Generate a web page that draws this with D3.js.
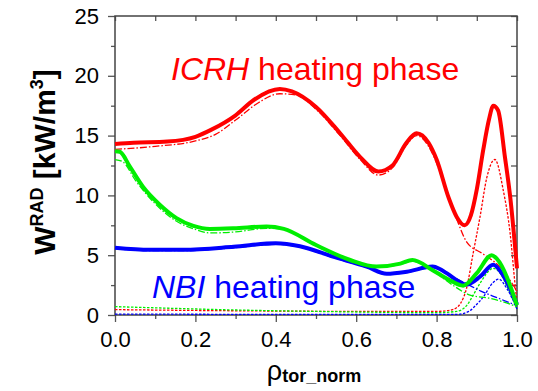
<!DOCTYPE html>
<html>
<head>
<meta charset="utf-8">
<script src="https://cdn.jsdelivr.net/npm/d3@7"></script>
<style>
  body { margin: 0; background: #fff; }
  text { font-family: "Liberation Sans", Arial, sans-serif; }
</style>
</head>
<body>
<div id="chart"></div>
<script>
// Radiated power density profiles vs normalised toroidal radius

// ICRH phase (red)
const rhoIcrhTotal = [0, 0.046, 0.13, 0.2, 0.24, 0.3, 0.346, 0.41, 0.44, 0.5, 0.56, 0.61, 0.655, 0.69, 0.725, 0.75, 0.78, 0.8, 0.83, 0.85, 0.87, 0.885, 0.9, 0.916, 0.93, 0.941, 0.953, 0.97, 0.983, 1.0];
const icrhTotal    = [14.3, 14.4, 14.5, 14.9, 15.5, 16.7, 18.0, 18.9, 18.7, 17.4, 15.2, 13.2, 12.0, 12.5, 14.4, 15.2, 14.4, 13.0, 9.8, 8.2, 7.5, 8.3, 10.5, 13.8, 16.3, 17.5, 17.1, 13.2, 9.9, 3.9];

const rhoIcrhBulk = [0, 0.1, 0.2, 0.25, 0.3, 0.35, 0.41, 0.45, 0.5, 0.56, 0.61, 0.655, 0.69, 0.725, 0.75, 0.78, 0.8, 0.83, 0.85, 0.875, 0.916, 0.958, 1.0];
const icrhBulk    = [13.85, 14.1, 14.55, 15.1, 16.3, 17.6, 18.5, 18.4, 17.2, 15.0, 13.0, 11.7, 12.3, 14.2, 15.0, 14.1, 12.7, 9.7, 8.0, 6.1, 5.1, 4.0, 2.0];

const rhoIcrhEdge = [0, 0.2, 0.4, 0.6, 0.8, 0.84, 0.86, 0.875, 0.89, 0.908, 0.925, 0.945, 0.966, 0.983, 0.995, 1.0];
const icrhEdge    = [0.45, 0.38, 0.33, 0.3, 0.3, 0.45, 1.0, 2.3, 5.0, 8.2, 11.5, 13.0, 10.4, 6.8, 2.6, 1.0];

// mixed phase (green)
const rhoMixTotal = [0, 0.012, 0.037, 0.07, 0.112, 0.153, 0.195, 0.236, 0.295, 0.377, 0.42, 0.5, 0.585, 0.65, 0.71, 0.74, 0.79, 0.833, 0.866, 0.9, 0.937, 0.95, 1.0];
const mixTotal    = [13.7, 13.65, 12.4, 10.7, 9.2, 8.1, 7.45, 7.2, 7.25, 7.4, 7.2, 5.85, 4.6, 4.05, 4.3, 4.6, 3.75, 2.9, 2.45, 3.5, 5.0, 4.7, 0.8];

const rhoMixBulk = [0, 0.02, 0.05, 0.1, 0.15, 0.2, 0.236, 0.3, 0.377, 0.42, 0.5, 0.585, 0.65, 0.71, 0.74, 0.79, 0.84, 0.883, 0.933, 1.0];
const mixBulk    = [13.0, 12.8, 11.3, 9.3, 7.9, 7.15, 6.86, 6.95, 7.25, 7.15, 5.8, 4.55, 4.0, 4.25, 4.5, 3.7, 2.5, 1.67, 1.4, 0.7];

const rhoMixEdge = [0, 0.1, 0.3, 0.5, 0.8, 0.85, 0.875, 0.89, 0.908, 0.941, 0.96, 0.975, 1.0];
const mixEdge    = [0.7, 0.6, 0.42, 0.3, 0.2, 0.3, 0.8, 1.6, 2.65, 3.9, 3.4, 2.4, 0.5];

// NBI phase (blue)
const rhoNbiTotal = [0, 0.087, 0.17, 0.295, 0.4, 0.46, 0.54, 0.626, 0.676, 0.726, 0.79, 0.808, 0.825, 0.875, 0.908, 0.941, 0.96, 1.0];
const nbiTotal    = [5.63, 5.45, 5.45, 5.7, 6.0, 5.75, 4.9, 4.05, 3.45, 3.62, 4.05, 3.85, 3.5, 2.55, 3.2, 4.2, 3.6, 0.9];

const rhoNbiBulk = [0, 0.087, 0.17, 0.295, 0.4, 0.46, 0.54, 0.626, 0.676, 0.726, 0.79, 0.808, 0.84, 0.875, 0.91, 0.95, 1.0];
const nbiBulk    = [5.55, 5.38, 5.38, 5.62, 5.92, 5.68, 4.83, 3.98, 3.4, 3.56, 3.98, 3.8, 3.2, 2.6, 2.0, 1.45, 0.8];

const rhoNbiEdge = [0, 0.5, 0.85, 0.88, 0.9, 0.916, 0.94, 0.955, 0.975, 1.0];
const nbiEdge    = [0.08, 0.05, 0.05, 0.3, 0.9, 1.5, 2.7, 3.0, 2.2, 0.5];

const xTicks = [0, 0.2, 0.4, 0.6, 0.8, 1.0];
const yTicks = [0, 5, 10, 15, 20, 25];

const series = [
  {rho: rhoIcrhEdge, w: icrhEdge, color: '#ff0000', style: 'dot'},
  {rho: rhoMixEdge,  w: mixEdge,  color: '#00ee00', style: 'dot'},
  {rho: rhoNbiEdge,  w: nbiEdge,  color: '#0000ff', style: 'dot'},
  {rho: rhoIcrhBulk, w: icrhBulk, color: '#ff0000', style: 'dashdot'},
  {rho: rhoMixBulk,  w: mixBulk,  color: '#00ee00', style: 'dashdot'},
  {rho: rhoNbiBulk,  w: nbiBulk,  color: '#0000ff', style: 'dashdot'},
  {rho: rhoNbiTotal, w: nbiTotal, color: '#0000ff', style: 'solid'},
  {rho: rhoMixTotal, w: mixTotal, color: '#00ee00', style: 'solid'},
  {rho: rhoIcrhTotal, w: icrhTotal, color: '#ff0000', style: 'solid'}
];

class ProfileChart {

  constructor(_config, _data) {
    this.config = {
      parentElement: _config.parentElement,
      containerWidth: 538,
      containerHeight: 391,
      margin: {top: 16, right: 21, bottom: 76, left: 115}
    }
    this.data = _data;
    this.initVis();
  }

  initVis() {
    let vis = this;

    vis.config.width = vis.config.containerWidth - vis.config.margin.left - vis.config.margin.right;
    vis.config.height = vis.config.containerHeight - vis.config.margin.top - vis.config.margin.bottom;

    vis.xScale = d3.scaleLinear().domain([0, 1]).range([0, vis.config.width]);
    vis.yScale = d3.scaleLinear().domain([0, 25]).range([vis.config.height, 0]);

    vis.svg = d3.select(vis.config.parentElement).append('svg')
        .attr('width', vis.config.containerWidth)
        .attr('height', vis.config.containerHeight);

    vis.chart = vis.svg.append('g')
        .attr('transform', `translate(${vis.config.margin.left},${vis.config.margin.top})`);

    vis.renderAxes();
    vis.renderVis();
  }

  renderAxes() {
    let vis = this;
    const w = vis.config.width, h = vis.config.height;
    const minorY = d3.range(0, 25.01, 2.5).filter(v => v % 5 !== 0);
    const allX = d3.range(0, 1.001, 0.1);
    const minorX = allX.filter((v, i) => i % 2 === 1);

    // left: labelled majors, short minors, all outward
    vis.chart.append('g')
        .call(d3.axisLeft(vis.yScale).tickValues(yTicks).tickSize(7).tickPadding(9).tickFormat(d3.format('d')));
    vis.chart.append('g')
        .call(d3.axisLeft(vis.yScale).tickValues(minorY).tickSize(4).tickFormat(''));

    // right and top: inward ticks, no labels
    vis.chart.append('g')
        .attr('transform', `translate(${w},0)`)
        .call(d3.axisRight(vis.yScale).tickValues(d3.range(0, 25.01, 2.5)).tickSize(-6).tickFormat(''));
    vis.chart.append('g')
        .call(d3.axisTop(vis.xScale).tickValues(allX).tickSize(-5).tickFormat(''));

    // bottom
    vis.chart.append('g')
        .attr('transform', `translate(0,${h})`)
        .call(d3.axisBottom(vis.xScale).tickValues(xTicks).tickSize(7).tickPadding(9).tickFormat(d3.format('.1f')));
    vis.chart.append('g')
        .attr('transform', `translate(0,${h})`)
        .call(d3.axisBottom(vis.xScale).tickValues(minorX).tickSize(4).tickFormat(''));

    vis.chart.selectAll('.domain').remove();
    vis.chart.selectAll('.tick line').attr('stroke', '#555').attr('stroke-width', 1.3);
    vis.chart.selectAll('.tick text')
        .attr('font-size', 22)
        .attr('fill', '#000')
        .style('font-family', '"Liberation Sans", Arial, sans-serif');

    vis.chart.append('rect')
        .attr('width', w)
        .attr('height', h)
        .attr('fill', 'none')
        .attr('stroke', '#444')
        .attr('stroke-width', 1.5);

    // y title: W^RAD [kW/m^3]
    const yTitle = vis.svg.append('text')
        .attr('transform', 'translate(55,162) rotate(-90)')
        .attr('text-anchor', 'middle')
        .attr('font-weight', 'bold')
        .attr('font-size', 30)
        .attr('fill', '#000');
    yTitle.append('tspan').text('W');
    yTitle.append('tspan').attr('font-size', 18).attr('dy', -12).text('RAD');
    yTitle.append('tspan').attr('dy', 12).text(' [kW/m');
    yTitle.append('tspan').attr('font-size', 18).attr('dy', -12).text('3');
    yTitle.append('tspan').attr('dy', 12).text(']');

    // x title: rho_tor_norm
    const xTitle = vis.svg.append('text')
        .attr('x', 314)
        .attr('y', 380)
        .attr('text-anchor', 'middle')
        .attr('fill', '#000');
    xTitle.append('tspan').attr('font-size', 27).text('ρ');
    xTitle.append('tspan').attr('font-size', 18).attr('font-weight', 'bold').attr('dy', 2).text('tor_norm');

    // phase annotations
    const icrh = vis.svg.append('text')
        .attr('x', 171).attr('y', 80)
        .attr('font-size', 32)
        .attr('fill', '#ff0000');
    icrh.append('tspan').attr('font-style', 'italic').text('ICRH');
    icrh.append('tspan').text(' heating phase');

    const nbi = vis.svg.append('text')
        .attr('x', 152).attr('y', 298)
        .attr('font-size', 32)
        .attr('fill', '#0000ff');
    nbi.append('tspan').attr('font-style', 'italic').text('NBI');
    nbi.append('tspan').text(' heating phase');
  }

  renderVis() {
    let vis = this;

    const line = d3.line()
        .x(d => vis.xScale(d[0]))
        .y(d => vis.yScale(d[1]))
        .curve(d3.curveMonotoneX);

    const dash = {solid: null, dashdot: '7,2,1.5,2', dot: '2.5,1.5'};
    const width = {solid: 4, dashdot: 1.3, dot: 1.3};

    vis.chart.selectAll('.profile')
        .data(vis.data)
      .join('path')
        .attr('class', 'profile')
        .attr('d', d => line(d.rho.map((r, i) => [r, d.w[i]])))
        .attr('fill', 'none')
        .attr('stroke', d => d.color)
        .attr('stroke-width', d => width[d.style])
        .attr('stroke-dasharray', d => dash[d.style])
        .attr('stroke-linejoin', 'round');
  }
}

new ProfileChart({parentElement: '#chart'}, series);
</script>
</body>
</html>
